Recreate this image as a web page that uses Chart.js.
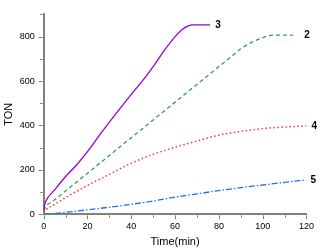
<!DOCTYPE html>
<html>
<head>
<meta charset="utf-8">
<script src="https://cdn.jsdelivr.net/npm/chart.js@4/dist/chart.umd.min.js"></script>
<style>
  html, body { margin: 0; padding: 0; background: #fff; }
  #wrap { width: 321px; height: 250px; }
</style>
</head>
<body>
<div id="wrap"><canvas id="chart" width="321" height="250"></canvas></div>
<script>
// Dados (TON vs tempo)
const t3 = [0, 0.5, 1, 5, 10, 15, 20, 25, 30, 35, 40, 45, 50, 55, 60, 63, 66, 68, 72, 76];
const ton3 = [15, 45, 60, 110, 170, 222, 282, 350, 415, 478, 540, 600, 665, 737, 800, 830, 848, 853, 853, 853];

const t2 = [0, 1, 5, 10, 20, 30, 40, 50, 60, 70, 80, 85, 90, 95, 100, 103, 108, 114];
const ton2 = [15, 35, 65, 105, 185, 265, 345, 425, 505, 585, 665, 705, 745, 774, 795, 805, 807, 807];

const t4 = [0, 1, 5, 10, 20, 30, 40, 50, 60, 70, 80, 90, 100, 110, 120];
const ton4 = [8, 20, 45, 75, 130, 180, 230, 270, 302, 330, 356, 373, 386, 393, 398];

const t5 = [0, 5, 10, 20, 30, 40, 50, 60, 70, 80, 90, 100, 110, 120];
const ton5 = [0, 4, 9, 20, 32, 45, 60, 77, 92, 107, 120, 132, 144, 155];

const seriesLabels = ['3', '2', '4', '5'];
const xTicks = [0, 20, 40, 60, 80, 100, 120];
const yTicks = [0, 200, 400, 600, 800];

const toPoints = (xs, ys) => xs.map((x, i) => ({ x, y: ys[i] }));
const axisColor = '#808080';
const fontFamily = '"Liberation Sans", Arial, sans-serif';

// Ticks, títulos e rótulos das curvas
const decor = {
  id: 'decor',
  afterDraw(chart) {
    const { ctx, scales: { x, y }, chartArea } = chart;
    ctx.save();
    ctx.strokeStyle = axisColor;
    ctx.lineWidth = 1;
    // ticks do eixo x (maiores a cada 20, menores a cada 10)
    for (let v = 0; v <= 120; v += 10) {
      const px = Math.round(x.getPixelForValue(v)) + 0.5;
      const len = v % 20 === 0 ? 4 : 2.5;
      ctx.beginPath();
      ctx.moveTo(px, chartArea.bottom + 1);
      ctx.lineTo(px, chartArea.bottom + 1 + len);
      ctx.stroke();
    }
    // ticks do eixo y
    for (let v = 0; v <= 900; v += 100) {
      const py = Math.round(y.getPixelForValue(v)) + 0.5;
      const len = v % 200 === 0 ? 4 : 2.5;
      ctx.beginPath();
      ctx.moveTo(chartArea.left - 1, py);
      ctx.lineTo(chartArea.left - 1 - len, py);
      ctx.stroke();
    }
    // títulos
    ctx.fillStyle = '#000';
    ctx.font = '11px ' + fontFamily;
    ctx.textAlign = 'center';
    ctx.textBaseline = 'middle';
    ctx.fillText('Time(min)', (chartArea.left + chartArea.right) / 2, 242);
    ctx.save();
    ctx.translate(9, (chartArea.top + chartArea.bottom) / 2);
    ctx.rotate(-Math.PI / 2);
    ctx.fillText('TON', 0, 0);
    ctx.restore();
    // rótulos no fim de cada curva
    ctx.font = 'bold 10px ' + fontFamily;
    ctx.textAlign = 'left';
    const gaps = [5, 11, 5, 4];
    chart.data.datasets.forEach((ds, i) => {
      const last = ds.data[ds.data.length - 1];
      ctx.fillText(seriesLabels[i], x.getPixelForValue(last.x) + gaps[i], y.getPixelForValue(last.y));
    });
    ctx.restore();
  }
};

new Chart(document.getElementById('chart'), {
  type: 'line',
  data: {
    datasets: [
      { data: toPoints(t3, ton3), borderColor: '#9a00d0', borderWidth: 1.3 },
      { data: toPoints(t2, ton2), borderColor: '#2ca05a', borderWidth: 1.3, borderDash: [4, 3] },
      { data: toPoints(t4, ton4), borderColor: '#f03c3c', borderWidth: 1.5, borderDash: [1.5, 2.5] },
      { data: toPoints(t5, ton5), borderColor: '#1f6ff0', borderWidth: 1.3, borderDash: [6, 2, 1.5, 2] }
    ]
  },
  options: {
    responsive: false,
    animation: false,
    cubicInterpolationMode: 'monotone',
    elements: { point: { radius: 0 } },
    layout: { padding: { left: 0, top: 1, right: 11.7, bottom: 0 } },
    plugins: { legend: { display: false }, tooltip: { enabled: false } },
    scales: {
      x: {
        type: 'linear',
        min: 0,
        max: 120,
        afterBuildTicks: s => { s.ticks = xTicks.map(v => ({ value: v })); },
        afterFit: s => { s.height = 35.7; },
        grid: { display: false, tickLength: 0 },
        border: { color: axisColor, width: 2 },
        ticks: { color: '#000', padding: 7, font: { size: 9, family: fontFamily } }
      },
      y: {
        min: 0,
        max: 900,
        afterBuildTicks: s => { s.ticks = yTicks.map(v => ({ value: v })); },
        afterFit: s => { s.width = 43.7; },
        grid: { display: false, tickLength: 0 },
        border: { color: axisColor, width: 2 },
        ticks: { color: '#000', padding: 9, font: { size: 9, family: fontFamily } }
      }
    }
  },
  plugins: [decor]
});
</script>
</body>
</html>
